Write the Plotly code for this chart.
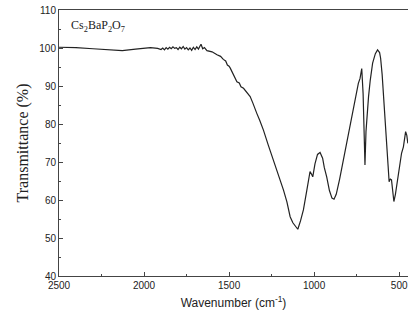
import plotly.graph_objects as go

wavenumber = [2500, 2400, 2300, 2200, 2128, 2050, 1962, 1920, 1900, 1890, 1880, 1870, 1860, 1850,
              1840, 1830, 1820, 1810, 1800, 1790, 1780, 1770, 1760, 1750, 1740, 1730, 1720, 1710,
              1700, 1690, 1680, 1670, 1665, 1655, 1645, 1630, 1600, 1571, 1550, 1534, 1520, 1510,
              1500, 1493, 1480, 1470, 1460, 1454, 1440, 1430, 1415, 1400, 1390, 1376, 1360, 1350,
              1337, 1320, 1298, 1270, 1239, 1210, 1180, 1160, 1141, 1125, 1110, 1096, 1080, 1063,
              1045, 1024, 1015, 1008, 995, 980, 965, 950, 940, 926, 910, 895, 883, 870, 850, 828,
              800, 770, 755, 740, 730, 720, 712, 706, 701, 695, 688, 680, 670, 656, 640, 627, 615,
              609, 600, 593, 585, 574, 565, 559, 552, 545, 538, 531, 522, 512, 500, 486, 475, 470,
              462, 455, 449]
transmittance = [100.2, 100.1, 99.8, 99.4, 99.3, 99.7, 100.1, 99.9, 99.6, 100.0, 99.5, 100.1, 99.7, 100.2,
                 99.8, 100.3, 99.9, 100.1, 99.6, 100.2, 99.8, 100.4, 99.7, 100.1, 99.5, 100.0, 99.4, 100.2,
                 99.6, 100.3, 99.7, 100.6, 101.0, 99.8, 100.1, 99.3, 99.0, 98.2, 97.8, 97.0, 96.6, 95.5,
                 95.2, 94.7, 93.5, 93.0, 91.8, 91.1, 90.8, 89.8, 89.4, 88.6, 88.0, 87.2, 85.5, 84.5,
                 82.8, 81.0, 78.4, 74.5, 70.5, 66.5, 62.6, 59.5, 55.6, 54.0, 53.0, 52.3, 54.5, 57.4,
                 62.0, 67.5, 66.8, 66.1, 69.5, 72.0, 72.5, 71.0, 68.5, 66.1, 62.5, 60.5, 60.2, 61.5, 65.5, 70.5,
                 77.0, 83.7, 87.5, 90.7, 92.0, 94.6, 88.0, 76.0, 69.2, 78.0, 84.0, 87.2, 91.5, 96.0, 98.5, 99.5, 98.8,
                 97.3, 93.0, 87.6, 82.0, 75.8, 69.0, 64.8, 65.5, 65.3, 62.0, 59.6, 61.5, 64.4, 67.5, 72.3, 74.0, 75.5,
                 78.0, 77.0, 74.9]

x_ticks = [2500, 2000, 1500, 1000, 500]
y_ticks = [40, 50, 60, 70, 80, 90, 100, 110]

fig = go.Figure()
fig.add_trace(go.Scatter(x=wavenumber, y=transmittance, mode="lines",
                         line=dict(color="#222222", width=1.2), showlegend=False))

axis_common = dict(showline=True, linecolor="#444444", linewidth=1, ticks="inside",
                   ticklen=4, tickcolor="#444444", showgrid=False, zeroline=False,
                   automargin=False,
                   tickfont=dict(family="Liberation Sans, Arial", size=10, color="#222222"))

fig.update_layout(
    width=408, height=327,
    margin=dict(l=59, r=0, t=10, b=51),
    paper_bgcolor="white", plot_bgcolor="white",
    xaxis=dict(range=[2500, 448], tickvals=x_ticks, mirror=True,
               minor=dict(ticks="inside", ticklen=2, tickcolor="#444444", dtick=250, tick0=0),
               title=dict(text="Wavenumber (cm<sup>-1</sup>)", standoff=8,
                          font=dict(family="Liberation Sans, Arial", size=12, color="#222222")),
               **axis_common),
    yaxis=dict(range=[40, 110], tickvals=y_ticks,
               minor=dict(ticks="inside", ticklen=2, tickcolor="#444444", dtick=5, tick0=0),
               title=dict(text="Transmittance (%)", standoff=6,
                          font=dict(family="Liberation Serif, Times New Roman", size=16, color="#222222")),
               **axis_common),
    annotations=[dict(text="Cs<sub>2</sub>BaP<sub>2</sub>O<sub>7</sub>", xref="paper", yref="paper",
                      x=0.03, y=0.94, xanchor="left", yanchor="middle", showarrow=False,
                      font=dict(family="Liberation Serif, Times New Roman", size=12, color="#222222"))],
)

fig.write_html("out.html", config={"displayModeBar": False},
               post_script="document.body.style.margin='0';")
